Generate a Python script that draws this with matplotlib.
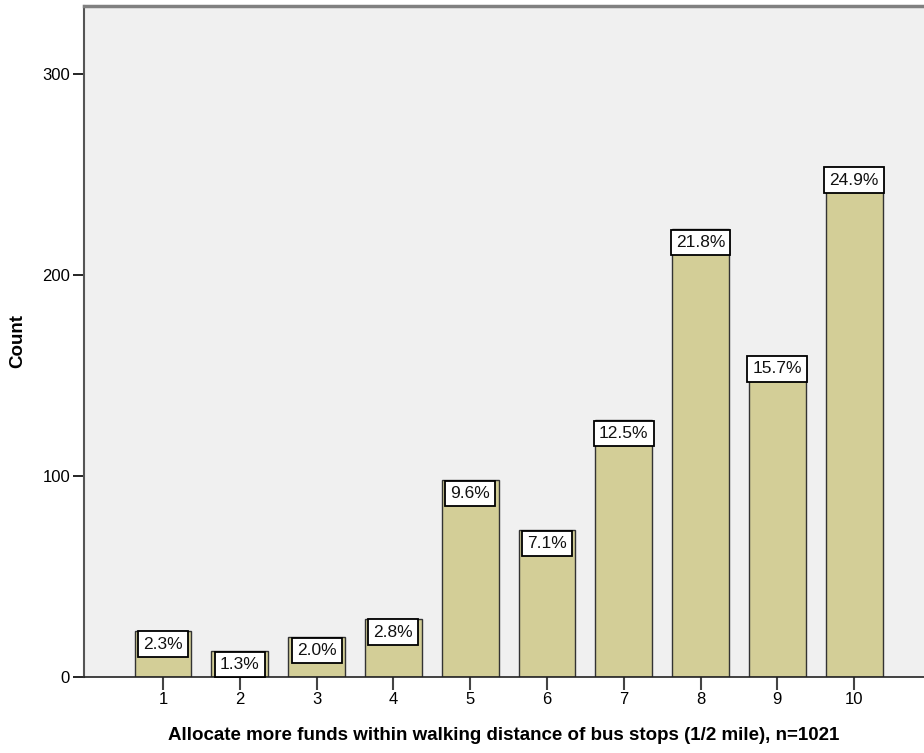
import matplotlib.pyplot as plt

# ---------- data ----------
categories = [1, 2, 3, 4, 5, 6, 7, 8, 9, 10]
counts = [23, 13, 20, 29, 98, 73, 128, 223, 160, 254]
pct_labels = ["2.3%", "1.3%", "2.0%", "2.8%", "9.6%", "7.1%", "12.5%", "21.8%", "15.7%", "24.9%"]
y_ticks = [0, 100, 200, 300]

plt.rcParams["font.family"] = ["Liberation Sans", "DejaVu Sans"]

fig = plt.figure(figsize=(9.24, 7.53), dpi=100)
ax = fig.add_axes([84 / 924, 76 / 753, 1 - 84 / 924, (677 - 6) / 753])
ax.set_facecolor("#F0F0F0")

ax.bar(categories, counts, width=0.74, color="#D3CE97", edgecolor="#333333",
       linewidth=1.0, zorder=2)

# percentage boxes sitting at the top of each bar
lab_size = 12.5
lab_pad = 0.3
for x, c, lab in zip(categories, counts, pct_labels):
    ax.annotate(lab, xy=(x, c), xytext=(0, -lab_pad * lab_size - 0.5),
                textcoords="offset points",
                ha="center", va="top", fontsize=lab_size, color="#111111", zorder=3,
                bbox=dict(boxstyle=f"square,pad={lab_pad}", facecolor="white",
                          edgecolor="black", linewidth=1.3))

ax.set_xlim(-0.03, 10.91)
ax.set_ylim(0, 334)
ax.set_xticks(categories)
ax.set_xticklabels([str(c) for c in categories])
ax.set_yticks(y_ticks)

ax.tick_params(axis="y", length=8, width=1.2, color="black", labelsize=12, pad=2)
ax.tick_params(axis="x", length=9, width=1.5, color="#444444", labelsize=12, pad=2)

ax.spines["right"].set_visible(False)
ax.spines["top"].set_color("#808080")
ax.spines["top"].set_linewidth(2.5)
ax.spines["left"].set_color("#555555")
ax.spines["left"].set_linewidth(1.5)
ax.spines["bottom"].set_color("#222222")
ax.spines["bottom"].set_linewidth(1.2)

fig.text(18 / 924, 1 - 341 / 753, "Count", rotation=90, ha="center", va="center",
         fontsize=13.5, fontweight="bold")
ax.set_xlabel("Allocate more funds within walking distance of bus stops (1/2 mile), n=1021",
              fontsize=13.5, fontweight="bold", labelpad=14)

fig.savefig("out.png", dpi=100)
